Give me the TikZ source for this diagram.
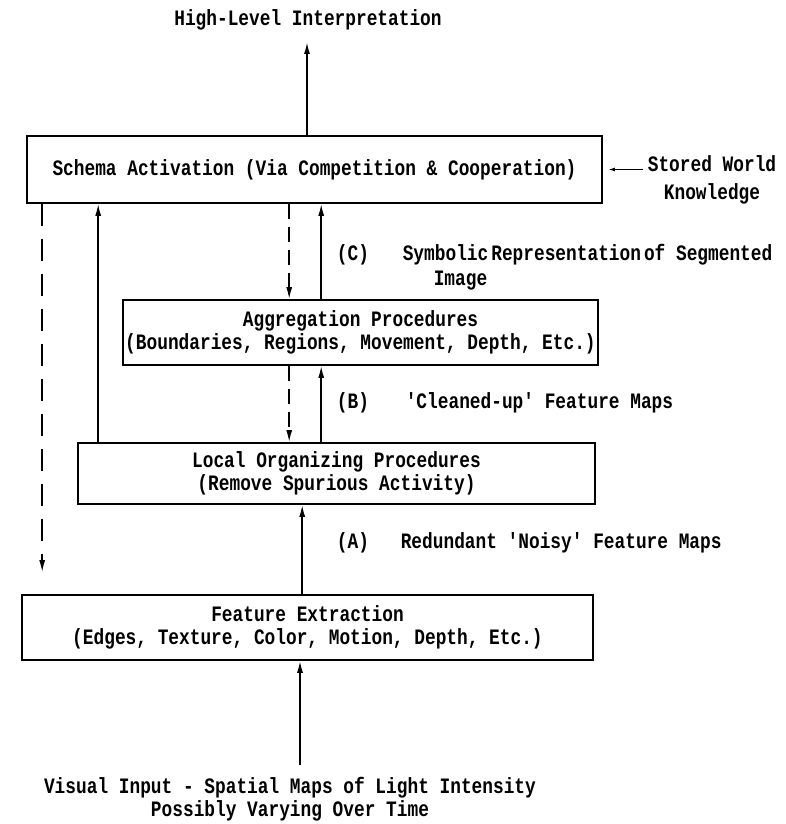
\documentclass[tikz,border=0pt]{standalone}
\usepackage{fontspec}
\usepackage{tikz}
\usetikzlibrary{arrows.meta,positioning}
\newfontfamily\tw{Liberation Mono}[FakeStretch=0.81]

\begin{document}
\begin{tikzpicture}[x=1pt, y=-1pt, line width=1.6pt, >={Latex[length=12pt,width=6pt]},
  every node/.style={font=\tw\bfseries\fontsize{22}{23}\selectfont, inner sep=0pt},
  b/.style={draw, line width=1.6pt, align=center},
  longdash/.style={dash pattern=on 22pt off 13pt},
  shortdash/.style={dash pattern=on 15pt off 8pt}]
\useasboundingbox (0,0) rectangle (786,824);
% boxes
\node[b, minimum width=575pt, minimum height=67pt] (sch) at (314.5,169.5) {Schema Activation (Via Competition \& Cooperation)};
\node[b, minimum width=475pt, minimum height=65pt] (agg) at (360.5,332.5) {Aggregation Procedures\\(Boundaries, Regions, Movement, Depth, Etc.)};
\node[b, minimum width=517pt, minimum height=61pt] (loc) at (336.5,473.5) {Local Organizing Procedures\\(Remove Spurious Activity)};
\node[b, minimum width=571pt, minimum height=65pt] (fea) at (307.5,627.5) {Feature Extraction\\(Edges, Texture, Color, Motion, Depth, Etc.)};
% free labels
\node (hli) at (308,20) {High-Level Interpretation};
\coordinate (top) at (307,42);
\node[align=center] (swk) at (712,180) {Stored World\\[5pt]Knowledge};
\node (lc) at (353,255) {(C)};
\node[anchor=west, align=left] (tc) at (402,267.5) {Symbolic\hspace{3pt}Representation\hspace{3pt}of Segmented\\[2pt]\hspace*{31pt}Image};
\node (lb) at (353,403) {(B)};
\node[anchor=west] (tb) at (405,403) {'Cleaned-up' Feature Maps};
\node (la) at (353,543) {(A)};
\node[anchor=west] (ta) at (400,543) {Redundant 'Noisy' Feature Maps};
\node[align=center] (vis) at (290,799) {Visual Input - Spatial Maps of Light Intensity\\Possibly Varying Over Time};
\coordinate (in) at (300,765);
% connectors
\draw[->] ([xshift=-7.5pt]sch.north) -- (top);
\draw[-{Latex[length=6pt,width=4pt]}, line width=1pt] ([xshift=-4pt]swk.west |- sch.east) -- ([xshift=6pt]sch.east);
\draw[->, longdash] ([xshift=16pt]sch.south west) -- ([xshift=21pt,yshift=22pt]fea.north west);
\draw[->] ([xshift=21pt]loc.north west) -- ([xshift=72pt]sch.south west);
\draw[->, shortdash] ([xshift=263pt]sch.south west) -- ([xshift=167pt]agg.north west);
\draw[->] ([xshift=199pt]agg.north west) -- ([xshift=295pt]sch.south west);
\draw[->, shortdash] ([xshift=167pt]agg.south west) -- ([xshift=212pt]loc.north west);
\draw[->] ([xshift=244pt]loc.north west) -- ([xshift=199pt]agg.south west);
\draw[->] ([xshift=281pt]fea.north west) -- ([xshift=225pt]loc.south west);
\draw[->] (in) -- (in |- fea.south);
\end{tikzpicture}
\end{document}
